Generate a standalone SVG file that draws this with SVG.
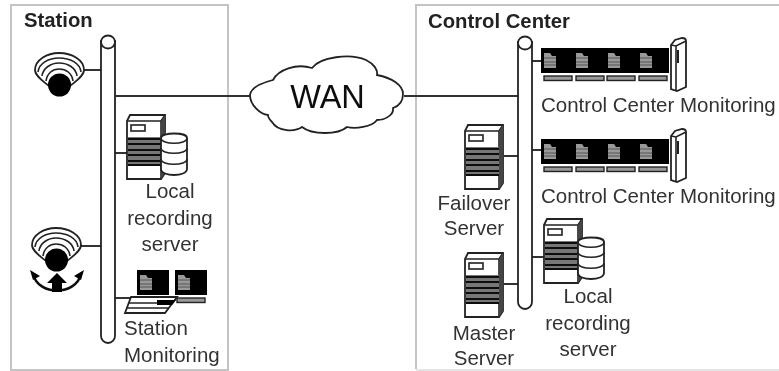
<svg xmlns="http://www.w3.org/2000/svg" xmlns:xlink="http://www.w3.org/1999/xlink" width="779" height="371" viewBox="0 0 779 371">
<style>
text{font-family:"Liberation Sans",Arial,sans-serif;font-size:20.5px;fill:#333}
.t{font-weight:bold;font-size:20.3px;fill:#222}
.m{text-anchor:middle}
.box{fill:#fff;stroke:#c4c4c4;stroke-width:2}
.ln{fill:none;stroke:#333;stroke-width:1.9}
.o{fill:#fff;stroke:#222;stroke-width:1.8}
.n{fill:none;stroke:#222;stroke-width:1.6}
.k{fill:#000}
.g{fill:#999}
</style>
<defs>
<filter id="b" x="-2%" y="-2%" width="104%" height="104%"><feGaussianBlur stdDeviation="0.5"/></filter>
<g id="server">
<path class="o" d="M0,7 L3,1 L38,1 L38,59 L34,65 L0,65 Z"/>
<path class="n" d="M0,7 L34,7 L38,1 M34,7 L34,65"/>
<path d="M34,7 L38,1 L38,59 L34,65 Z" fill="#444"/>
<rect class="n" x="4" y="11" width="14" height="6"/>
<rect x="1" y="23" width="33" height="28" fill="#777"/>
<path d="M1,25H34M1,30H34M1,36H34M1,41H34M1,47H34M1,51H34" stroke="#111" stroke-width="1.8"/>
</g>
<g id="db">
<path class="o" d="M0,7 C0,1 26,1 26,7 L26,38 C26,46 0,46 0,38 Z"/>
<path class="n" d="M0,7 C0,14 26,14 26,7 M0,17 C0,24 26,24 26,17 M0,28 C0,35 26,35 26,28"/>
</g>
<g id="scr">
<rect class="k" x="0" y="0" width="32" height="25"/>
<path class="g" d="M3,5 L9,5 L11,8 L15,8 L15,20 L3,20 Z"/>
<path d="M3,10H15M3,14H15M3,17H15" stroke="#555" stroke-width="1"/>
</g>
<g id="kb"><rect x="0" y="0" width="28" height="4.5" fill="#999" stroke="#222" stroke-width="1.400"/></g>
<g id="row">
<use xlink:href="#scr" x="0"/><use xlink:href="#scr" x="32"/><use xlink:href="#scr" x="64"/><use xlink:href="#scr" x="96"/>
<use xlink:href="#kb" x="3" y="28"/><use xlink:href="#kb" x="35" y="28"/><use xlink:href="#kb" x="66" y="28"/><use xlink:href="#kb" x="98" y="28"/>
<path class="o" d="M130,-3 L130,41 L136,43 L145,39 L145,-7 C145,-9 143,-10 141,-10 L134,-8 Z"/>
<path class="n" d="M130,-3 L135,-2 L145,-7 M135,-2 L135,43"/>
<path d="M136,2 L138,2 L138,15 L136,15 Z" fill="#222"/>
</g>
<g id="cam">
<path class="o" d="M0,17 C0,7 12,0 24,0 C37,0 49,7 49,17 C49,23 41,28 35,33 L14,33 C8,28 0,23 0,17 Z"/>
<path class="n" d="M3,19 C4,10 14,5 24,5 C35,5 45,10 46,19 M7,23 C8,15 16,10 24,10 C33,10 41,15 42,23 M11,28 C12,20 18,16 24,16 C31,16 37,20 38,28"/>
<circle cx="24.500" cy="32" r="11.500" fill="#000"/>
</g>
</defs>
<g filter="url(#b)">
<rect class="box" x="11" y="5" width="217" height="365"/>
<path class="box" style="fill:none" d="M779,5 H416 V369"/>
<path style="fill:none;stroke:#e4e4e4;stroke-width:2" d="M416,370 H779"/>
<text class="t" x="24" y="27">Station</text>
<text class="t" x="428" y="28">Control Center</text>

<g id="connectors">
<path class="ln" d="M83,70H101M115,96H250M404,96H518M115,153H127M81,246H101M115,298H140M532,61H541M532,150H541M504,156H518M504,284H518M532,257H544"/>
</g>

<g id="bus-station"><path class="o" d="M101,41 V336 A7,7 0 0 0 115,336 V41 Z"/><ellipse class="o" cx="108" cy="42" rx="7" ry="6.500"/></g>
<g id="bus-center"><path class="o" d="M518,42 V302 A7,7 0 0 0 532,302 V42 Z"/><ellipse class="o" cx="525" cy="43" rx="7" ry="6.500"/></g>

<g id="wan">
<path class="o" d="M250,95 C251,88 261,83 273,80 C278,70 296,63 312,68 C320,57 350,53 366,60 C374,64 378,70 377,75 C392,78 403,85 403,94 C403,102 399,106 393,108 C394,115 385,120 377,120 C372,127 355,129 347,127 C338,135 312,135 302,127 C295,132 278,132 272,122 C270,120 268,118 268,115 C260,114 250,105 250,95 Z"/>
<text x="327.500" y="108" class="m" style="font-size:32.500px;fill:#111">WAN</text>
</g>

<g id="camera-fixed"><use xlink:href="#cam" x="35" y="53"/></g>
<g id="camera-ptz"><use xlink:href="#cam" x="32" y="228"/>
<path class="n" style="stroke:#111;stroke-width:2.500" d="M33,274 C38,296 76,296 81,274"/>
<path class="k" d="M30,270 L40,276 L33,280 Z M84,270 L74,276 L81,280 Z M57,273 L67,283 L62,283 L62,292 L52,292 L52,283 L47,283 Z"/>
</g>

<g id="local-station">
<use xlink:href="#server" x="127" y="114"/><use xlink:href="#db" x="161" y="131"/>
<text x="170" y="198" class="m">Local</text><text x="170" y="225" class="m">recording</text><text x="170" y="251" class="m">server</text>
</g>

<g id="station-monitoring">
<use xlink:href="#scr" x="137" y="270"/><use xlink:href="#scr" x="175" y="270"/>
<path class="o" d="M131,297 L177,297 L165,313 L125,313 Z"/>
<path class="n" d="M129,303 H172 M127,308 H168"/>
<path d="M157,300 L176,300 L172,305 L157,305 Z" fill="#000"/>
<rect x="177" y="298" width="28" height="4.500" fill="#999" stroke="#222" stroke-width="1.400"/>
<text x="124" y="335">Station</text><text x="124" y="362">Monitoring</text>
</g>

<g id="monitoring-1"><use xlink:href="#row" x="541" y="48"/><text x="541" y="112">Control Center Monitoring</text></g>
<g id="monitoring-2"><use xlink:href="#row" x="541" y="139"/><text x="541" y="203">Control Center Monitoring</text></g>

<g id="failover"><use xlink:href="#server" x="465" y="124"/><text x="474" y="210" class="m">Failover</text><text x="474" y="235" class="m">Server</text></g>
<g id="master"><use xlink:href="#server" x="465" y="252"/><text x="484" y="340" class="m">Master</text><text x="484" y="365" class="m">Server</text></g>
<g id="local-center">
<use xlink:href="#server" x="544" y="218"/><use xlink:href="#db" x="578" y="235"/>
<text x="588" y="303" class="m">Local</text><text x="588" y="330" class="m">recording</text><text x="588" y="356" class="m">server</text>
</g>
</g>
</svg>
